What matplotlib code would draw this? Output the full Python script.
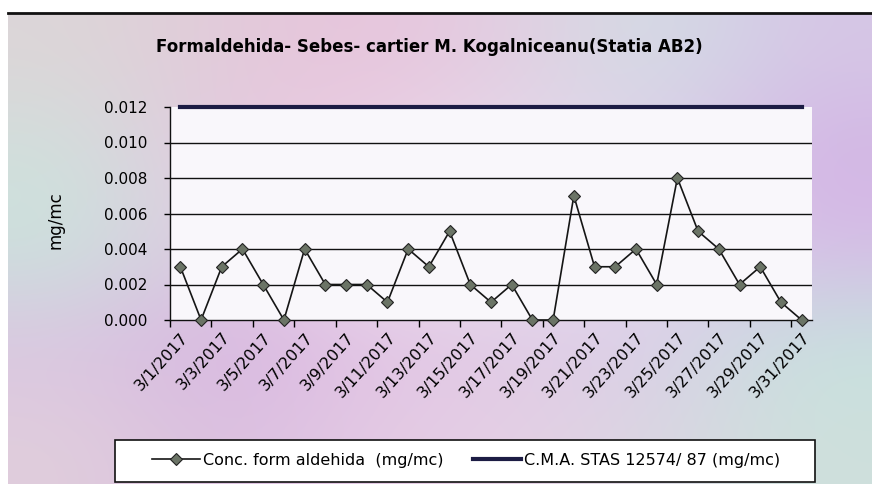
import numpy as np
import matplotlib
matplotlib.use("Agg")
import matplotlib.pyplot as plt
from matplotlib.lines import Line2D
from matplotlib.patches import Rectangle
from matplotlib.colors import to_rgb

plt.rcParams['font.family'] = ['DejaVu Sans']

# date labels, one every two days
days = [f"3/{d}/2017" for d in range(1, 32)]
conc = [0.003, 0.000, 0.003, 0.004, 0.002, 0.000, 0.004, 0.002, 0.002, 0.002,
        0.001, 0.004, 0.003, 0.005, 0.002, 0.001, 0.002, 0.000, 0.000, 0.007,
        0.003, 0.003, 0.004, 0.002, 0.008, 0.005, 0.004, 0.002, 0.003, 0.001,
        0.000]
cma = [0.012] * len(days)
yticks = [0.000, 0.002, 0.004, 0.006, 0.008, 0.010, 0.012]

title = "Formaldehida- Sebes- cartier M. Kogalniceanu(Statia AB2)"
label_conc = "Conc. form aldehida  (mg/mc)"
label_cma = "C.M.A. STAS 12574/ 87 (mg/mc)"

fig = plt.figure(figsize=(8.72, 4.84), dpi=100)

# pastel scanned background
bg_cols = [
    ['#dcd6d8', '#e2cada', '#e8c4dc', '#e2cee2', '#d2dee4', '#d6c6e6'],
    ['#d0e0dc', '#e6c6e0', '#ecd0e4', '#e8daec', '#dcd2ea', '#d2b4e4'],
    ['#cbe2dc', '#e0c6e2', '#f0e4ee', '#ece8f0', '#e4d6ee', '#d6bce6'],
    ['#dac6e2', '#d6b4e0', '#e2c2e4', '#e0cae6', '#dacee8', '#c6e2de'],
    ['#e0cedc', '#dabee0', '#e4cae4', '#e6d0e4', '#dad6e2', '#cee0dc'],
]
bg = np.array([[to_rgb(c) for c in row] for row in bg_cols])
bax = fig.add_axes([8 / 872, 0, 1 - 8 / 872, 1 - 13 / 484])
bax.imshow(bg, aspect='auto', interpolation='bicubic')
bax.axis('off')

fig.add_artist(Line2D([8 / 872, 1], [1 - 13 / 484, 1 - 13 / 484],
                      color='#111111', lw=2))

ax = fig.add_axes([170 / 872, 1 - 320 / 484, 642 / 872, 213 / 484])
ax.set_facecolor('#f9f7fb')
x = np.arange(len(days))

for y in yticks[1:-1]:
    ax.axhline(y, color='#111111', lw=1, zorder=1)

ax.plot(x, cma, color='#1c1c44', lw=3, zorder=3, clip_on=False,
        label=label_cma)
ax.plot(x, conc, color='#151515', lw=1.2, marker='D', markersize=6.5,
        markerfacecolor='#6b7466', markeredgecolor='#222222',
        markeredgewidth=0.8, zorder=4, clip_on=False, label=label_conc)

ax.set_xlim(-0.5, len(days) - 0.5)
ax.set_ylim(0, 0.012)
ax.set_yticks(yticks)
ax.set_yticklabels([f"{v:.3f}" for v in yticks], fontsize=11)

ax.set_xticks(x[::2])
ax.set_xticklabels(days[::2], rotation=48, ha='right', va='top',
                   rotation_mode='anchor', fontsize=11.5)
ax.set_xticks(np.arange(-0.5, len(days), 2), minor=True)
ax.tick_params(axis='x', which='major', length=0, pad=7)
ax.tick_params(axis='x', which='minor', length=5, width=1, direction='out')
ax.tick_params(axis='y', length=4, width=1, direction='out', pad=12)

for s in ['top', 'right']:
    ax.spines[s].set_visible(False)
for s in ['left', 'bottom']:
    ax.spines[s].set_color('#111111')
    ax.spines[s].set_linewidth(1)

fig.text(429 / 872, 1 - 47 / 484, title, ha='center', va='center',
         fontsize=12, fontweight='bold')
fig.text(56 / 872, 1 - 220 / 484, "mg/mc", rotation=90, ha='center',
         va='center', fontsize=12)

# legend box
fig.add_artist(Rectangle((115 / 872, 1 - 482 / 484), 700 / 872, 42 / 484,
                         transform=fig.transFigure, facecolor='white',
                         edgecolor='#111111', lw=1.2))
handles, labels = ax.get_legend_handles_labels()
leg = fig.legend(handles[::-1], labels[::-1], loc='center left',
                 bbox_to_anchor=(138 / 872, 1 - 460 / 484), ncol=2,
                 frameon=False, fontsize=11.5, handlelength=3.0,
                 handletextpad=0.2, columnspacing=1.8)

fig.savefig('out.png', dpi=100)
